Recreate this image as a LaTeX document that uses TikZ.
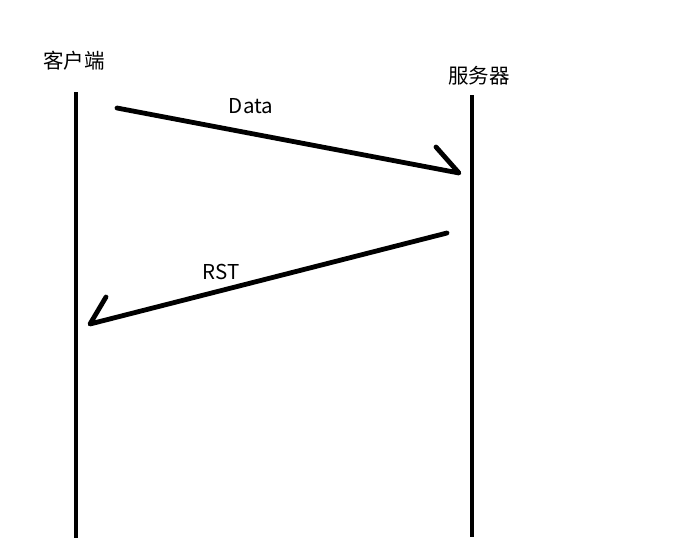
\documentclass[tikz,border=0pt]{standalone}
\usepackage{fontspec}
\setmainfont{Noto Sans CJK SC}
\newfontfamily\cjk{Noto Sans CJK SC}
\begin{document}
\begin{tikzpicture}[x=1pt,y=-1pt,
  lifeline/.style={line width=4.8pt},
  msg/.style={line width=4.8pt,line cap=round,line join=round},
  lbl/.style={inner sep=0pt,font=\fontsize{20.5}{24}\selectfont}]
\useasboundingbox[fill=white] (0,0) rectangle (675,558);
\node[lbl] (client) at (74,61) {\cjk 客户端};
\node[lbl] (server) at (479,76) {\cjk 服务器};
\coordinate (c1) at (76,92);
\coordinate (c2) at (76,538);
\coordinate (s1) at (472,95);
\coordinate (s2) at (472,537);
\draw[lifeline] (c1) -- (c2);
\draw[lifeline] (s1) -- (s2);
\coordinate (d1) at (117,108);
\coordinate (d2) at (459,173);
\coordinate (db) at (436,147);
\draw[msg] (d1) -- (d2) -- (db);
\node[lbl] (data) at (251,106) {Data};
\coordinate (r1) at (447,233);
\coordinate (r2) at (90,324);
\coordinate (rb) at (106,297);
\draw[msg] (r1) -- (r2) -- (rb);
\node[lbl] (rst) at (221,272) {RST};
\end{tikzpicture}
\end{document}
